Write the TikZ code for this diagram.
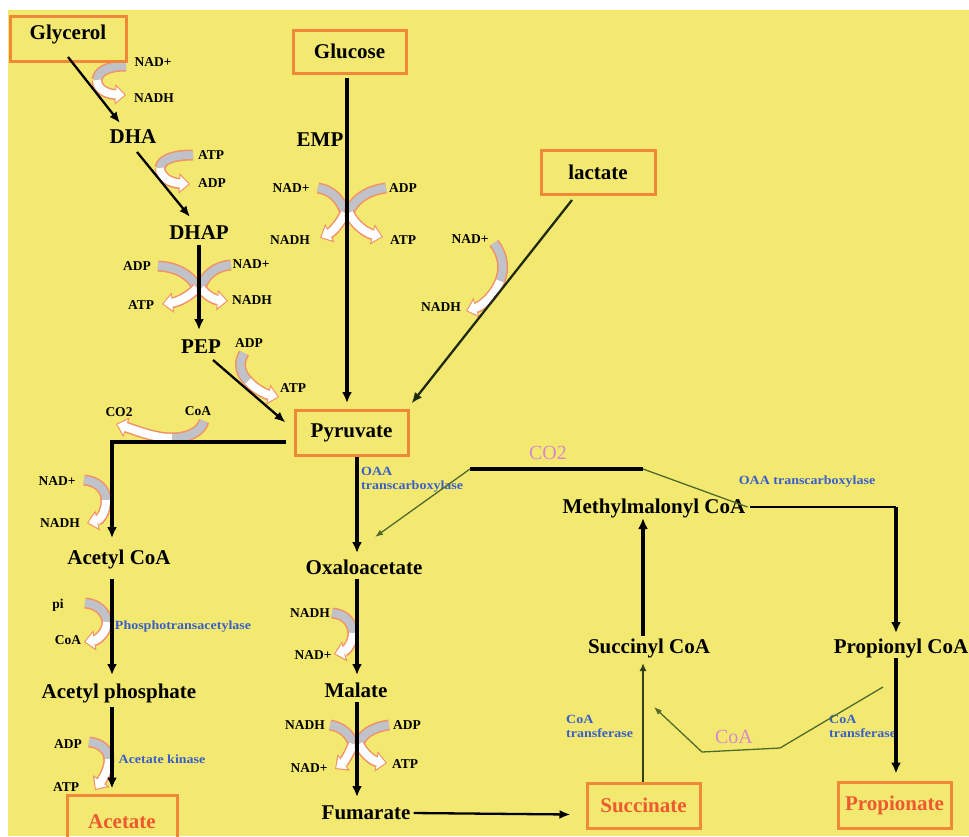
\documentclass[tikz,border=0pt]{standalone}
\usepackage{fontspec}
\setmainfont{Liberation Serif}
\newfontfamily\enzfont[FakeStretch=1.12]{Liberation Serif}
\usetikzlibrary{arrows.meta,calc}
\definecolor{bgyellow}{HTML}{F3E971}
\definecolor{boxorange}{HTML}{F0883A}
\definecolor{boxred}{HTML}{EE5A30}
\definecolor{bandorange}{HTML}{F29066}
\definecolor{bandgray}{HTML}{C0C2CA}
\definecolor{enzblue}{HTML}{3A5FC8}
\definecolor{pinkc}{HTML}{D88AC8}
\definecolor{greenc}{HTML}{4F6A2A}
\tikzset{
  big/.style={font=\fontsize{21}{23}\selectfont\bfseries, inner sep=0pt},
  cof/.style={font=\fontsize{13.5}{15}\selectfont\bfseries, inner sep=0pt},
  enz/.style={font=\enzfont\fontsize{12.5}{13.5}\selectfont\bfseries, text=enzblue, inner sep=0pt, align=left},
  pinkl/.style={font=\fontsize{20}{22}\selectfont, text=pinkc, inner sep=0pt},
  box/.style={draw=boxorange, line width=3pt, inner sep=0pt, big},
  redtext/.style={text=boxred},
  mainarrow/.style={draw=black, line width=3.4pt, -{Latex[length=11pt,width=10pt]}},
  diagarrow/.style={draw=black, line width=2.3pt, -{Latex[length=11pt,width=9pt]}},
  thinarrow/.style={draw=greenc!60!black, line width=1.8pt, -{Latex[length=8pt,width=7pt]}},
  greenline/.style={draw=greenc, line width=1.3pt},
  greenarrow/.style={draw=greenc, line width=1.3pt, -{Latex[length=8pt,width=6pt]}},
  blackbar/.style={draw=black, line width=3.2pt},
}
\newcommand\cofband[2]{%
  \draw[line width=11pt, draw=bandorange] #1;
  \draw[line width=8pt, draw=bandgray] #1;
  \draw[line width=11pt, draw=bandorange, -{Triangle[length=11pt,width=20pt]}] #2;
  \draw[line width=8pt, draw=white, shorten >=1.5pt, -{Triangle[length=8.5pt,width=15pt]}] #2;
}
\begin{document}
\begin{tikzpicture}[x=1pt,y=-1pt]
\fill[white] (0,0) rectangle (969,836);
\useasboundingbox (0,0) rectangle (969,836);
\clip (0,0) rectangle (969,836);
\fill[bgyellow] (8,10) rectangle (969,836);

% ---- cofactor bands ----
\cofband{(126,66) .. controls (106,66) and (98,72) .. (97,80)}{(97,80) .. controls (97,89) and (106,94) .. (126,95)}
\cofband{(193,155) .. controls (172,155) and (161,160) .. (160,168)}{(160,168) .. controls (160,177) and (170,183) .. (190,184)}
\cofband{(158,266) .. controls (178,267) and (192,276) .. (197,288)}{(197,288) .. controls (190,296) and (178,302) .. (162,304)}
\cofband{(231,265) .. controls (215,266) and (204,276) .. (201,288)}{(201,288) .. controls (206,296) and (216,300) .. (228,301)}
\cofband{(318,188) .. controls (332,190) and (341,200) .. (345,213)}{(345,213) .. controls (340,224) and (332,232) .. (320,238)}
\cofband{(386,188) .. controls (368,190) and (353,200) .. (349,213)}{(349,213) .. controls (355,225) and (366,233) .. (383,237)}
\cofband{(244,353) .. controls (238,363) and (240,373) .. (248,381)}{(248,381) .. controls (255,389) and (265,394) .. (279,397)}
\cofband{(494,243) .. controls (503,255) and (505,268) .. (500,281)}{(500,281) .. controls (494,296) and (482,306) .. (466,311)}
\cofband{(204,421) .. controls (201,432) and (188,438) .. (172,438)}{(172,438) .. controls (155,438) and (138,431) .. (116,424)}
\cofband{(84,480) .. controls (98,481) and (106,490) .. (106,500)}{(106,500) .. controls (106,512) and (100,520) .. (87,523)}
\cofband{(85,603) .. controls (98,604) and (106,612) .. (107,622)}{(107,622) .. controls (107,632) and (98,640) .. (84,642)}
\cofband{(89,742) .. controls (101,743) and (108,750) .. (109,759)}{(109,759) .. controls (109,770) and (102,780) .. (95,790)}
\cofband{(332,613) .. controls (345,614) and (352,622) .. (353,633)}{(353,633) .. controls (353,643) and (346,651) .. (334,654)}
\cofband{(330,725) .. controls (342,727) and (350,734) .. (353,744)}{(353,744) .. controls (349,755) and (343,763) .. (335,769)}
\cofband{(389,725) .. controls (373,727) and (362,734) .. (359,744)}{(359,744) .. controls (364,754) and (373,761) .. (387,763)}

% ---- boxes ----
\node[box, minimum width=116pt, minimum height=45pt, text depth=12pt] (glycerol) at (68,38.5) {Glycerol};
\node[box, minimum width=113pt, minimum height=43pt] (glucose) at (349.5,51.5) {Glucose};
\node[box, minimum width=114pt, minimum height=44pt] (lactate) at (598,172) {lactate};
\node[box, minimum width=113pt, minimum height=45pt] (pyr) at (351.5,432.5) {Pyruvate};
\node[box, redtext, minimum width=110pt, minimum height=54pt] (acetate) at (122,822) {Acetate};
\node[box, redtext, minimum width=113pt, minimum height=45pt] (succinate) at (643.5,805.5) {Succinate};
\node[box, redtext, minimum width=113pt, minimum height=46pt] (propionate) at (894.5,805) {Propionate};

% ---- metabolite labels ----
\node[big] (dha) at (133,137) {DHA};
\node[big] (dhap) at (199,233) {DHAP};
\node[big] (emp) at (320,140) {EMP};
\node[big] (pep) at (201,347) {PEP};
\node[big] (acoa) at (119,559) {Acetyl CoA};
\node[big] (aphos) at (119,693) {Acetyl phosphate};
\node[big] (oaa) at (364,567) {Oxaloacetate};
\node[big] (malate) at (356,690) {Malate};
\node[big] (fumarate) at (366,813) {Fumarate};
\node[big] (mmcoa) at (654,508) {Methylmalonyl CoA};
\node[big] (scoa) at (649,648) {Succinyl CoA};
\node[big] (pcoa) at (901,648) {Propionyl CoA};

% ---- cofactor labels ----
\node[cof] (g1a) at (153,62) {NAD+};
\node[cof] (g1b) at (154,98) {NADH};
\node[cof] (d1a) at (211,155) {ATP};
\node[cof] (d1b) at (212,183) {ADP};
\node[cof] (p1a) at (137,266) {ADP};
\node[cof] (p1b) at (251,264) {NAD+};
\node[cof] (p1c) at (141,305) {ATP};
\node[cof] (p1d) at (252,300) {NADH};
\node[cof] (e1a) at (291,188) {NAD+};
\node[cof] (e1b) at (403,188) {ADP};
\node[cof] (e1c) at (290,240) {NADH};
\node[cof] (e1d) at (403,240) {ATP};
\node[cof] (ppa) at (249,343) {ADP};
\node[cof] (ppb) at (293,388) {ATP};
\node[cof] (l1a) at (470,239) {NAD+};
\node[cof] (l1b) at (441,307) {NADH};
\node[cof] (a1a) at (119,412) {CO2};
\node[cof] (a1b) at (198,411) {CoA};
\node[cof] (a2a) at (57,481) {NAD+};
\node[cof] (a2b) at (60,523) {NADH};
\node[cof] (a3a) at (58,605) {pi};
\node[cof] (a3b) at (68,640) {CoA};
\node[cof] (a4a) at (68,744) {ADP};
\node[cof] (a4b) at (66,787) {ATP};
\node[cof] (o1a) at (310,613) {NADH};
\node[cof] (o1b) at (313,655) {NAD+};
\node[cof] (m1a) at (305,725) {NADH};
\node[cof] (m1b) at (407,725) {ADP};
\node[cof] (m1c) at (309,768) {NAD+};
\node[cof] (m1d) at (405,764) {ATP};

% ---- enzyme labels ----
\node[enz, anchor=west] (oaat1) at (361,479.5) {OAA\\transcarboxylase};
\node[enz] (oaat2) at (807,482) {OAA transcarboxylase};
\node[enz] (ptase) at (183,627) {Phosphotransacetylase};
\node[enz] (akin) at (162,759) {Acetate kinase};
\node[enz, anchor=west] (cotr1) at (566,726.5) {CoA\\transferase};
\node[enz, anchor=west] (cotr2) at (829,726.5) {CoA\\transferase};
\node[pinkl] (co2) at (548,453) {CO2};
\node[pinkl] (coa) at (734,737) {CoA};

% ---- main connectors ----
\draw[diagarrow] ($(glycerol)+(0,18.5)$) -- ($(dha)+(-13,-14)$);
\draw[diagarrow] ($(dha)+(4,15)$) -- ($(dhap)+(-9,-16)$);
\draw[mainarrow] ($(dhap)+(0,12)$) -- ($(pep)+(-2,-17)$);
\draw[mainarrow] ($(glucose)+(-2.5,26.5)$) -- ($(pyr)+(-4.5,-29.5)$);
\draw[diagarrow, draw=greenc!40!black] ($(lactate)+(-26,28)$) -- ($(pyr.north east)+(2,-5)$);
\draw[diagarrow] ($(pep)+(12,13)$) -- ($(pyr.west)+(-8,-10)$);
\draw[mainarrow] ($(pyr.west)+(-8,9.5)$) -| ($(acoa)+(-7,-21)$);
\draw[mainarrow] ($(acoa)+(-7,20)$) -- ($(aphos)+(-7,-18)$);
\draw[mainarrow] ($(aphos)+(-7,14)$) -- ($(acetate.north)+(-10,-5)$);
\draw[mainarrow] ($(pyr)+(5.5,24.5)$) -- ($(oaa)+(-7,-14)$);
\draw[mainarrow] ($(oaa)+(-7,12)$) -- ($(malate)+(1,-15)$);
\draw[mainarrow] ($(malate)+(1,12)$) -- ($(fumarate)+(-9,-16)$);
\draw[diagarrow] ($(fumarate.east)+(3,0)$) -- ($(succinate.west)+(-15,9)$);
\draw[thinarrow] ($(succinate.north)+(-0.5,0)$) -- ($(scoa)+(-6,15)$);
\draw[mainarrow] ($(scoa)+(-6,-12)$) -- ($(mmcoa)+(-11,10)$);
\coordinate (mmcorner) at (896,507);
\draw[draw=black, line width=2.4pt] ($(mmcoa.east)+(5,-1)$) -- (mmcorner);
\draw[mainarrow] (mmcorner) -- ($(pcoa)+(-5,-15)$);
\draw[mainarrow] ($(pcoa)+(-5,10)$) -- ($(propionate.north)+(1.5,-7)$);

% CO2 transfer
\coordinate (co2L) at (470,469);
\coordinate (co2R) at (643,469);
\draw[blackbar] (co2L) -- (co2R);
\draw[greenline] (co2R) -- ($(mmcoa.east)+(2,-1)$);
\draw[greenarrow] (co2L) -- ($(oaa)+(11,-30)$);

% CoA transfer
\coordinate (coaA) at (883,687);
\coordinate (coaB) at (780,748);
\coordinate (coaC) at (702,752);
\draw[greenarrow] (coaA) -- (coaB) -- (coaC) -- ($(scoa)+(5,59)$);
\end{tikzpicture}
\end{document}
